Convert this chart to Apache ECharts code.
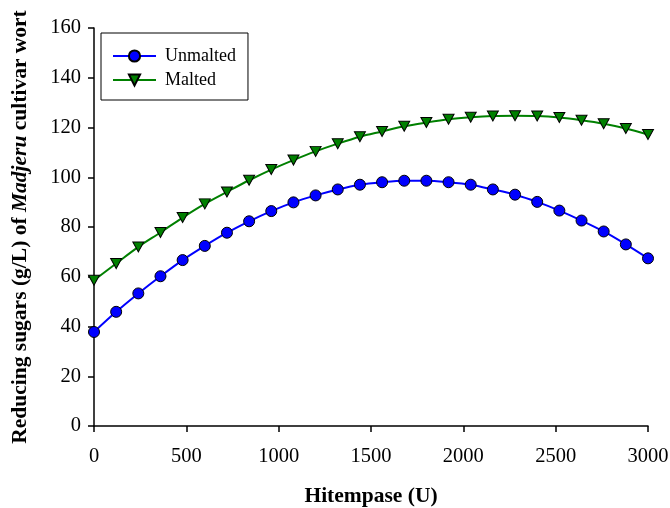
<!DOCTYPE html>
<html>
<head>
<meta charset="utf-8">
<script src="https://cdn.jsdelivr.net/npm/echarts@6/dist/echarts.min.js"></script>
<style>
  html, body { margin: 0; padding: 0; background: #fff; }
  #chart { width: 670px; height: 508px; }
</style>
</head>
<body>
<div id="chart"></div>
<script>
// Hitempase dose (U)
var hitempase = [0, 120, 240, 360, 480, 600, 720, 840, 960, 1080, 1200, 1320, 1440,
    1560, 1680, 1800, 1920, 2040, 2160, 2280, 2400, 2520, 2640, 2760, 2880, 3000];
// reducing sugars (g/L)
var unmalted = [37.8, 45.9, 53.3, 60.2, 66.7, 72.4, 77.7, 82.3, 86.4, 89.9, 92.7, 95.1, 97.0,
    98.0, 98.6, 98.6, 98.0, 97.0, 95.1, 93.0, 90.1, 86.6, 82.6, 78.2, 73.0, 67.4];
var malted = [58.6, 65.3, 72.0, 77.8, 83.8, 89.3, 94.1, 98.8, 103.1, 106.9, 110.4, 113.5, 116.3,
    118.4, 120.5, 122.0, 123.3, 124.1, 124.6, 124.7, 124.6, 124.0, 122.9, 121.5, 119.6, 117.2];

var serif = '"Liberation Serif", "Times New Roman", serif';

function pairs(xs, ys) {
    return xs.map(function (x, i) { return [x, ys[i]]; });
}

var chartDom = document.getElementById('chart');
var myChart = echarts.init(chartDom);
var option = {
    animation: false,
    backgroundColor: '#fff',
    grid: { left: 94, right: 22, top: 28, bottom: 82, outerBoundsMode: 'none' },
    legend: {
        orient: 'vertical',
        left: 101,
        top: 33,
        padding: [14, 12, 11, 11],
        itemGap: 6,
        itemWidth: 43,
        itemHeight: 14,
        backgroundColor: '#fff',
        borderColor: '#000',
        borderWidth: 1,
        textStyle: { fontFamily: serif, fontSize: 18, color: '#000', padding: [0, 0, 0, 4] },
        data: ['Unmalted', 'Malted']
    },
    xAxis: {
        type: 'value',
        min: 0,
        max: 3000,
        interval: 500,
        name: 'Hitempase (U)',
        nameLocation: 'middle',
        nameGap: 59,
        nameTextStyle: { fontFamily: serif, fontSize: 21.5, fontWeight: 'bold', color: '#000' },
        axisLine: { lineStyle: { color: '#000', width: 1.5 } },
        axisTick: { inside: false, length: 6, lineStyle: { color: '#000', width: 1.5 } },
        axisLabel: {
            fontFamily: serif, fontSize: 20.5, color: '#000', margin: 20,
            formatter: function (v) { return String(v); }
        },
        splitLine: { show: false }
    },
    yAxis: {
        type: 'value',
        min: 0,
        max: 160,
        interval: 20,
        name: '{b|Reducing sugars (g/L) of }{i|Madjeru}{b| cultivar wort}',
        nameLocation: 'middle',
        nameGap: 63,
        nameTextStyle: {
            fontFamily: serif, fontSize: 21.5, fontWeight: 'bold', color: '#000',
            rich: {
                b: { fontFamily: serif, fontSize: 21.5, fontWeight: 'bold', color: '#000' },
                i: { fontFamily: serif, fontSize: 21.5, fontWeight: 'bold', fontStyle: 'italic', color: '#000' }
            }
        },
        axisLine: { show: true, lineStyle: { color: '#000', width: 1.5 } },
        axisTick: { show: true, inside: false, length: 6, lineStyle: { color: '#000', width: 1.5 } },
        axisLabel: { fontFamily: serif, fontSize: 20.5, color: '#000', margin: 13 },
        splitLine: { show: false }
    },
    series: [
        {
            name: 'Unmalted',
            type: 'line',
            smooth: 0.3,
            data: pairs(hitempase, unmalted),
            symbol: 'circle',
            symbolSize: 11,
            lineStyle: { color: '#0000ff', width: 2 },
            itemStyle: { color: '#0000ff', borderColor: '#000', borderWidth: 1 }
        },
        {
            name: 'Malted',
            type: 'line',
            smooth: 0.3,
            data: pairs(hitempase, malted),
            symbol: 'triangle',
            symbolRotate: 180,
            symbolSize: [11, 10],
            lineStyle: { color: '#008000', width: 2 },
            itemStyle: { color: '#008000', borderColor: '#000', borderWidth: 1 }
        }
    ]
};
option && myChart.setOption(option);
</script>
</body>
</html>
